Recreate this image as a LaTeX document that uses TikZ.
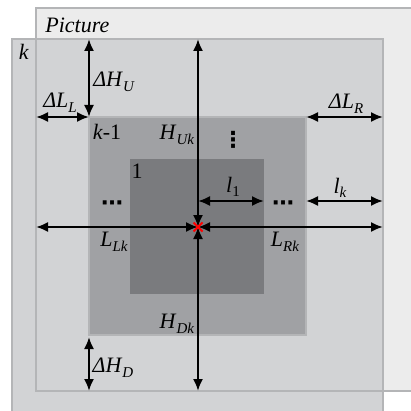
\documentclass[tikz,border=0pt]{standalone}
\usepackage{fontspec}
\setmainfont{Liberation Serif}
\newfontfamily\dotsfont{DejaVu Sans}
\usepackage{xcolor}
\usepackage{tikz}
\usetikzlibrary{arrows.meta,shapes.misc,calc}
\definecolor{picfill}{HTML}{ECECEC}
\definecolor{kfill}{HTML}{D2D3D5}
\definecolor{kmfill}{HTML}{A0A1A4}
\definecolor{onefill}{HTML}{7A7B7E}
\definecolor{edgegray}{HTML}{B4B5B7}
\newcommand{\lowsub}[1]{\raisebox{-0.45ex}{\fontsize{7.5}{8}\selectfont #1}}

\begin{document}
\begin{tikzpicture}[x=0.5pt,y=-0.5pt,
  frame/.style={draw=edgegray,line width=0.7pt},
  dim/.style={{Latex[length=6pt,width=5pt]}-{Latex[length=6pt,width=5pt]},line width=1pt},
  lbl/.style={font=\fontsize{11}{13}\selectfont,inner sep=0pt}]
  \useasboundingbox (0,0) rectangle (411,411);
  \coordinate (picnw) at (36,8);
  \coordinate (picse) at (420,391);
  \coordinate (knw) at (12,39);
  \coordinate (kse) at (383,420);
  \coordinate (kmnw) at (89,117);
  \coordinate (kmse) at (306,335);
  \coordinate (onenw) at (130,159);
  \coordinate (onese) at (264,294);
  \coordinate (c) at (198,227);
  \fill[white] (0,0) rectangle (411,411);
  \filldraw[frame,fill=picfill] (picnw) rectangle (picse);
  \filldraw[frame,fill=kfill] (knw) rectangle (kse);
  \draw[frame] (picnw) rectangle (picse);
  \filldraw[frame,fill=kmfill] (kmnw) rectangle (kmse);
  \fill[onefill] (onenw) rectangle (onese);
  \node[lbl,anchor=west] (pic) at (45,25) {\textit{Picture}};
  \node[lbl] (k) at (24,52) {\textit{k}};
  \node[lbl] (km) at (107,132) {\textit{k}-1};
  \node[lbl] (one) at (137,171) {1};
  \draw[dim] (c) -- (c |- knw);
  \draw[dim] (c) -- (c |- picse);
  \draw[dim] (c) -- (picnw |- c);
  \draw[dim] (c) -- (kse |- c);
  \draw[dim] (kmnw |- knw) -- (kmnw);
  \draw[dim] (picnw |- kmnw) -- (kmnw);
  \draw[dim] (kmse |- kmnw) -- (kse |- kmnw);
  \coordinate (lone) at (198,201);
  \draw[dim] (lone) -- (onese |- lone);
  \draw[dim] (kmse |- lone) -- (kse |- lone);
  \coordinate (dhd) at (89,337);
  \draw[dim] (dhd) -- (dhd |- picse);
  \node[cross out,draw=red,line width=1pt,minimum size=3.5pt,inner sep=0pt] (mark) at (c) {};
  \node[lbl] (dhu) at (114,82) {\textit{ΔH}\lowsub{\textit{U}}};
  \node[lbl] (dll) at (60,103) {\textit{ΔL}\lowsub{\textit{L}}};
  \node[lbl] (dlr) at (346,104) {\textit{ΔL}\lowsub{\textit{R}}};
  \node[lbl] (huk) at (177,135) {\textit{H}\lowsub{\textit{Uk}}};
  \node[lbl] (vdots) at (233,140) {\dotsfont\bfseries ⋮};
  \node[lbl] (l1) at (233,187) {\textit{l}\lowsub{1}};
  \node[lbl] (lk) at (340,188) {\textit{l}\lowsub{\textit{k}}};
  \node[lbl] (ldots) at (112,206) {\dotsfont\bfseries ⋯};
  \node[lbl] (rdots) at (283,206) {\dotsfont\bfseries ⋯};
  \node[lbl] (llk) at (114,242) {\textit{L}\lowsub{\textit{Lk}}};
  \node[lbl] (lrk) at (285,242) {\textit{L}\lowsub{\textit{Rk}}};
  \node[lbl] (hdk) at (177,324) {\textit{H}\lowsub{\textit{Dk}}};
  \node[lbl] (dhd) at (113,368) {\textit{ΔH}\lowsub{\textit{D}}};
\end{tikzpicture}
\end{document}
